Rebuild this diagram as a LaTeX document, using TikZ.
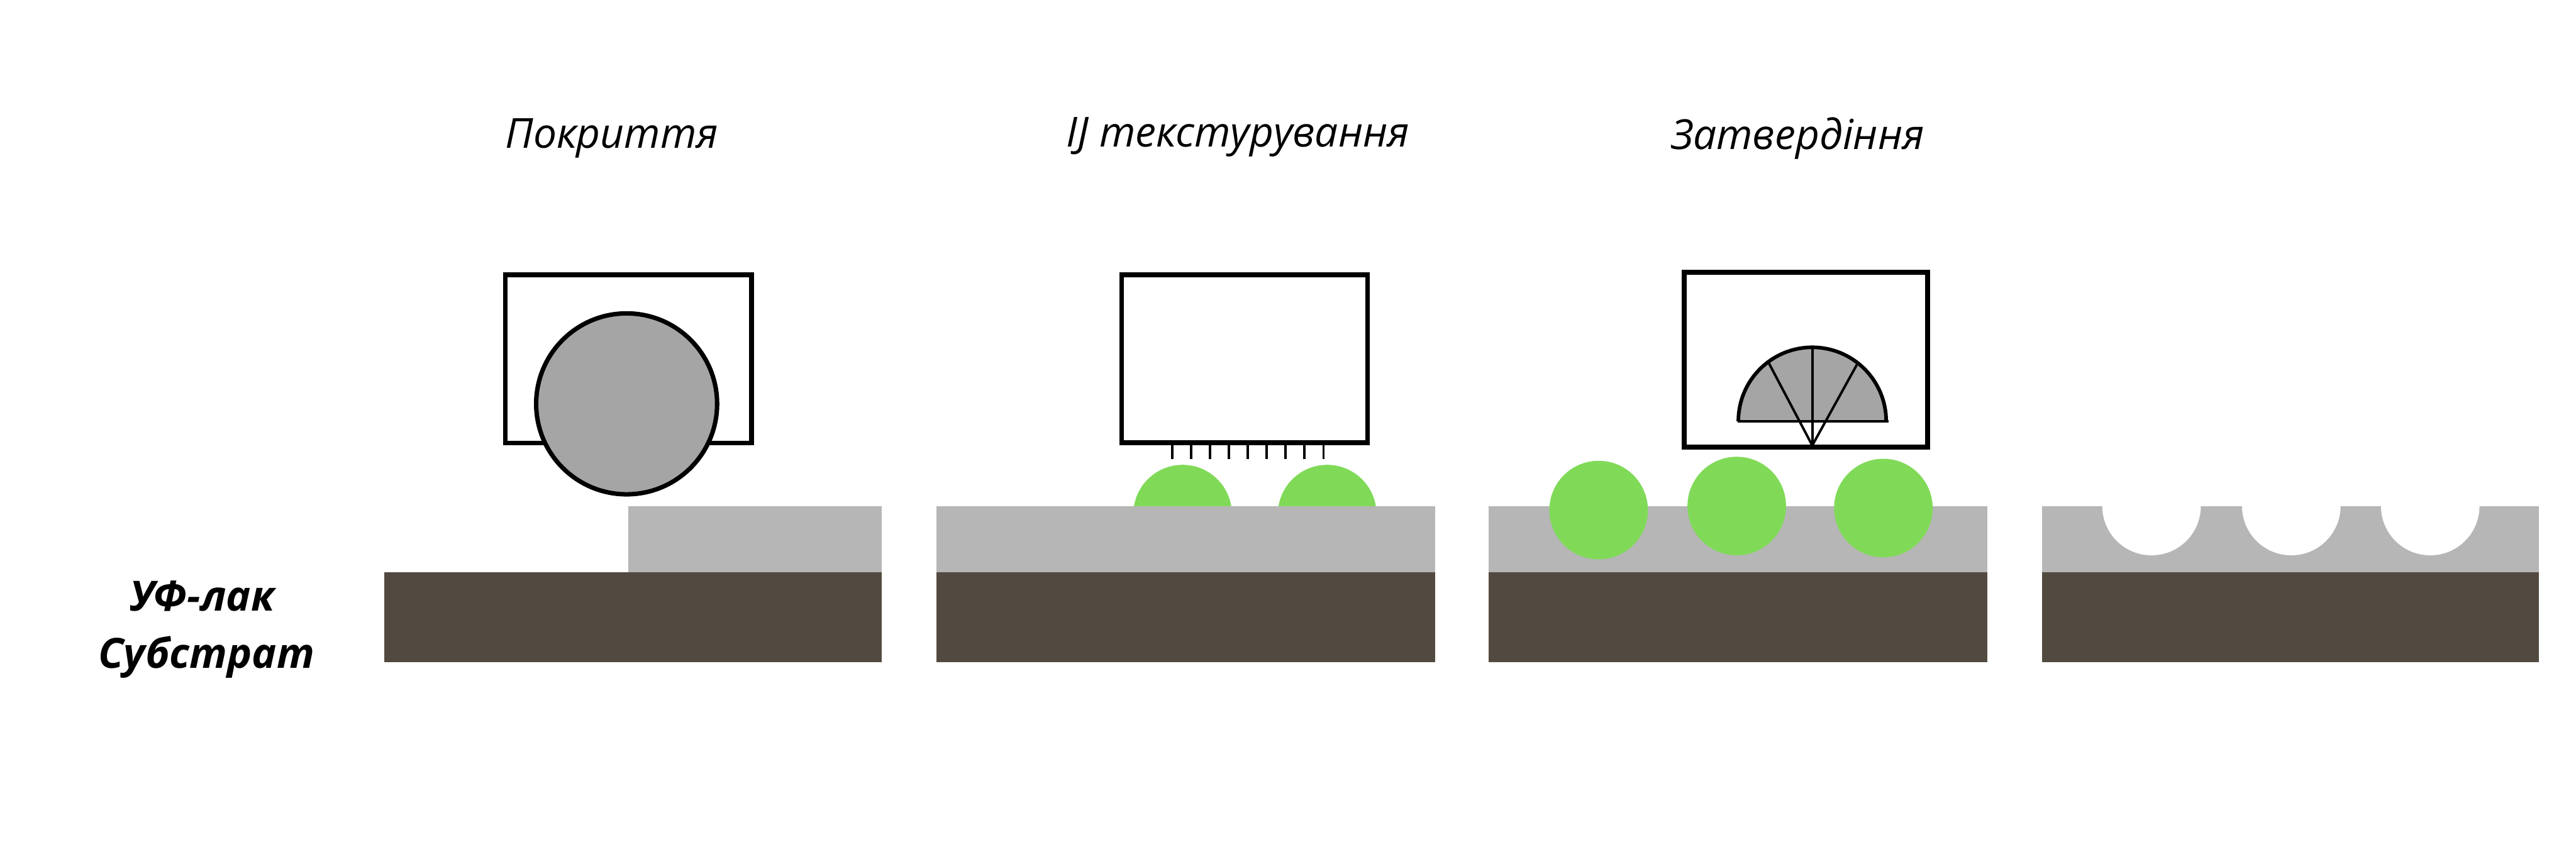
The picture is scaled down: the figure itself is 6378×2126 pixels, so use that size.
\documentclass[tikz,border=0pt]{standalone}
\usepackage{fontspec}
\setmainfont{Open Sans}
\definecolor{subst}{HTML}{524A40}
\definecolor{lacq}{HTML}{B6B6B6}
\definecolor{drop}{HTML}{80DA58}
\definecolor{roll}{HTML}{A5A5A5}
\tikzset{
  substrate/.style={fill=subst,draw=none},
  lacquer/.style={fill=lacq,draw=none},
  droplet/.style={fill=drop,draw=none},
  hole/.style={fill=white,draw=none},
  head/.style={draw=black,line width=12pt,fill=white},
  nozzle/.style={draw=black,line width=6pt},
  ray/.style={draw=black,line width=6pt},
  title/.style={anchor=base,inner sep=0pt,font=\fontsize{102.5}{120}\selectfont\itshape},
  legend/.style={anchor=base,inner sep=0pt,font=\fontsize{103}{120}\selectfont\bfseries\itshape}
}
\begin{document}
\begin{tikzpicture}[x=1pt,y=-1pt]
\useasboundingbox (0,0) rectangle (6378,2126);
\fill[white] (0,0) rectangle (6378,2126);
% panel 1
\draw[head] (1251,681) rectangle (1861,1097);
\draw[fill=roll,draw=black,line width=11pt] (1551.5,1000) circle[radius=224pt];
\fill[lacquer] (1556,1253) rectangle (2183,1417);
\fill[substrate] (951,1417) rectangle (2183,1640);
% panel 2
\draw[head] (2777,681) rectangle (3386,1096);
\foreach \x in {2902,2949,2996,3042,3089,3136,3183,3230,3277}
  \draw[nozzle] (\x,1096) -- (\x,1136);
\fill[droplet] (2928,1273) circle[radius=122pt];
\fill[droplet] (3286,1273) circle[radius=122pt];
\fill[lacquer] (2319,1253) rectangle (3553,1417);
\fill[substrate] (2319,1417) rectangle (3553,1640);
% panel 3
\fill[lacquer] (3685,1253) rectangle (4921,1417);
\fill[substrate] (3685,1417) rectangle (4921,1640);
\fill[droplet] (3958,1263) circle[radius=122pt];
\fill[droplet] (4300,1253) circle[radius=122pt];
\fill[droplet] (4663,1258) circle[radius=122pt];
\draw[head] (4170,674) rectangle (4773,1107);
\fill[roll] (4304,1043) arc[start angle=180,end angle=0,radius=183pt] -- cycle;
\draw[black,line width=9pt] (4304,1043) arc[start angle=180,end angle=0,radius=183pt];
\draw[ray] (4302,1043) -- (4676,1043);
\draw[ray] (4487,1103) -- (4380,900);
\draw[ray] (4487,1103) -- (4487,860);
\draw[ray] (4487,1103) -- (4598,902);
% panel 4
\fill[lacquer] (5056,1253) rectangle (6286,1417);
\fill[substrate] (5056,1417) rectangle (6286,1640);
\fill[hole] (5327,1253) circle[radius=122pt];
\fill[hole] (5673,1253) circle[radius=122pt];
\fill[hole] (6017,1253) circle[radius=122pt];
% text
\node[title] (t1) at (1515,366) {Покриття};
\node[title] (t2) at (3065,364) {IJ текстурування};
\node[title] (t3) at (4451,370) {Затвердіння};
\node[legend] (l1) at (501,1513) {УФ-лак};
\node[legend] (l2) at (511,1655) {Субстрат};
\end{tikzpicture}
\end{document}
